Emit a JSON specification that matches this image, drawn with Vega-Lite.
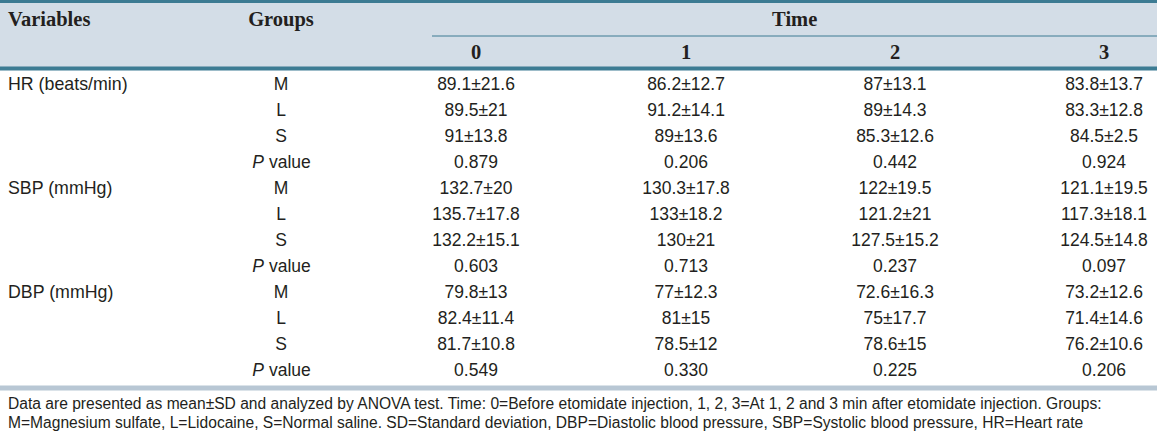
{
  "$schema": "https://vega.github.io/schema/vega-lite/v6.json",
  "width": 1157,
  "height": 435,
  "autosize": {"type": "none"},
  "padding": 0,
  "background": "#ffffff",
  "config": {"view": {"stroke": null}},
  "datasets": {
    "one": [{}],
    "headLeft": [{"r": -2, "c": 0, "t": "Variables"}],
    "headCenter": [
      {"r": -2, "c": 1, "t": "Groups"},
      {"r": -2, "c": 3.52, "t": "Time"},
      {"r": -1, "c": 2, "t": "0"},
      {"r": -1, "c": 3, "t": "1"},
      {"r": -1, "c": 4, "t": "2"},
      {"r": -1, "c": 5, "t": "3"}
    ],
    "vars": [
      {"r": 0, "c": 0, "t": "HR (beats/min)"},
      {"r": 4, "c": 0, "t": "SBP (mmHg)"},
      {"r": 8, "c": 0, "t": "DBP (mmHg)"}
    ],
    "pv": [{"r": 3, "c": 1}, {"r": 7, "c": 1}, {"r": 11, "c": 1}],
    "body": [
      {"r": 0, "c": 1, "t": "M"}, {"r": 1, "c": 1, "t": "L"}, {"r": 2, "c": 1, "t": "S"},
      {"r": 4, "c": 1, "t": "M"}, {"r": 5, "c": 1, "t": "L"}, {"r": 6, "c": 1, "t": "S"},
      {"r": 8, "c": 1, "t": "M"}, {"r": 9, "c": 1, "t": "L"}, {"r": 10, "c": 1, "t": "S"},
      {"r": 0, "c": 2, "t": "89.1±21.6"}, {"r": 0, "c": 3, "t": "86.2±12.7"}, {"r": 0, "c": 4, "t": "87±13.1"}, {"r": 0, "c": 5, "t": "83.8±13.7"},
      {"r": 1, "c": 2, "t": "89.5±21"}, {"r": 1, "c": 3, "t": "91.2±14.1"}, {"r": 1, "c": 4, "t": "89±14.3"}, {"r": 1, "c": 5, "t": "83.3±12.8"},
      {"r": 2, "c": 2, "t": "91±13.8"}, {"r": 2, "c": 3, "t": "89±13.6"}, {"r": 2, "c": 4, "t": "85.3±12.6"}, {"r": 2, "c": 5, "t": "84.5±2.5"},
      {"r": 3, "c": 2, "t": "0.879"}, {"r": 3, "c": 3, "t": "0.206"}, {"r": 3, "c": 4, "t": "0.442"}, {"r": 3, "c": 5, "t": "0.924"},
      {"r": 4, "c": 2, "t": "132.7±20"}, {"r": 4, "c": 3, "t": "130.3±17.8"}, {"r": 4, "c": 4, "t": "122±19.5"}, {"r": 4, "c": 5, "t": "121.1±19.5"},
      {"r": 5, "c": 2, "t": "135.7±17.8"}, {"r": 5, "c": 3, "t": "133±18.2"}, {"r": 5, "c": 4, "t": "121.2±21"}, {"r": 5, "c": 5, "t": "117.3±18.1"},
      {"r": 6, "c": 2, "t": "132.2±15.1"}, {"r": 6, "c": 3, "t": "130±21"}, {"r": 6, "c": 4, "t": "127.5±15.2"}, {"r": 6, "c": 5, "t": "124.5±14.8"},
      {"r": 7, "c": 2, "t": "0.603"}, {"r": 7, "c": 3, "t": "0.713"}, {"r": 7, "c": 4, "t": "0.237"}, {"r": 7, "c": 5, "t": "0.097"},
      {"r": 8, "c": 2, "t": "79.8±13"}, {"r": 8, "c": 3, "t": "77±12.3"}, {"r": 8, "c": 4, "t": "72.6±16.3"}, {"r": 8, "c": 5, "t": "73.2±12.6"},
      {"r": 9, "c": 2, "t": "82.4±11.4"}, {"r": 9, "c": 3, "t": "81±15"}, {"r": 9, "c": 4, "t": "75±17.7"}, {"r": 9, "c": 5, "t": "71.4±14.6"},
      {"r": 10, "c": 2, "t": "81.7±10.8"}, {"r": 10, "c": 3, "t": "78.5±12"}, {"r": 10, "c": 4, "t": "78.6±15"}, {"r": 10, "c": 5, "t": "76.2±10.6"},
      {"r": 11, "c": 2, "t": "0.549"}, {"r": 11, "c": 3, "t": "0.330"}, {"r": 11, "c": 4, "t": "0.225"}, {"r": 11, "c": 5, "t": "0.206"}
    ],
    "foot": [
      {"r": 12, "c": 0, "t": "Data are presented as mean±SD and analyzed by ANOVA test. Time: 0=Before etomidate injection, 1, 2, 3=At 1, 2 and 3 min after etomidate injection. Groups:"},
      {"r": 13, "c": 0, "t": "M=Magnesium sulfate, L=Lidocaine, S=Normal saline. SD=Standard deviation, DBP=Diastolic blood pressure, SBP=Systolic blood pressure, HR=Heart rate"}
    ]
  },
  "layer": [
    {
      "data": {"name": "one"},
      "mark": {"type": "rect", "color": "#d3dde7"},
      "encoding": {
        "x": {"datum": -1, "type": "quantitative", "axis": null, "scale": {"domain": [-1, 0, 1, 1.5, 2, 3, 4, 5, 5.5], "range": [0, 8, 281, 432, 476, 686, 895, 1104, 1157], "zero": false, "nice": false}},
        "x2": {"datum": 5.5},
        "y": {"datum": -3, "type": "quantitative", "axis": null, "scale": {"domain": [-3, -2, -1.5, -1, -0.5, 0, 11, 11.5, 12, 13, 14], "range": [1.5, 20, 36, 53, 68.5, 84.5, 371, 388, 404, 423, 435], "zero": false, "nice": false}},
        "y2": {"datum": -0.5}
      }
    },
    {
      "data": {"name": "one"},
      "mark": {"type": "rule", "color": "#3c7b93", "strokeWidth": 3},
      "encoding": {"x": {"datum": -1, "type": "quantitative"}, "x2": {"datum": 5.5}, "y": {"datum": -3, "type": "quantitative"}}
    },
    {
      "data": {"name": "one"},
      "mark": {"type": "rule", "color": "#3c7b93", "strokeWidth": 4},
      "encoding": {"x": {"datum": -1, "type": "quantitative"}, "x2": {"datum": 5.5}, "y": {"datum": -0.5, "type": "quantitative"}}
    },
    {
      "data": {"name": "one"},
      "mark": {"type": "rule", "color": "#3c7b93", "strokeWidth": 1},
      "encoding": {"x": {"datum": 1.5, "type": "quantitative"}, "x2": {"datum": 5.5}, "y": {"datum": -1.5, "type": "quantitative"}}
    },
    {
      "data": {"name": "one"},
      "mark": {"type": "rule", "color": "#b8c7d4", "strokeWidth": 5},
      "encoding": {"x": {"datum": -1, "type": "quantitative"}, "x2": {"datum": 5.5}, "y": {"datum": 11.5, "type": "quantitative"}}
    },
    {
      "data": {"name": "headLeft"},
      "mark": {"type": "text", "align": "left", "baseline": "middle", "font": "Liberation Serif", "fontWeight": "bold", "fontSize": 20.5, "color": "#231f20"},
      "encoding": {"x": {"field": "c", "type": "quantitative"}, "y": {"field": "r", "type": "quantitative"}, "text": {"field": "t"}}
    },
    {
      "data": {"name": "headCenter"},
      "mark": {"type": "text", "align": "center", "baseline": "middle", "font": "Liberation Serif", "fontWeight": "bold", "fontSize": 20.5, "color": "#231f20"},
      "encoding": {"x": {"field": "c", "type": "quantitative"}, "y": {"field": "r", "type": "quantitative"}, "text": {"field": "t"}}
    },
    {
      "data": {"name": "vars"},
      "mark": {"type": "text", "align": "left", "baseline": "middle", "font": "Liberation Sans", "fontSize": 17.8, "color": "#231f20"},
      "encoding": {"x": {"field": "c", "type": "quantitative"}, "y": {"field": "r", "type": "quantitative"}, "text": {"field": "t"}}
    },
    {
      "data": {"name": "body"},
      "mark": {"type": "text", "align": "center", "baseline": "middle", "font": "Liberation Sans", "fontSize": 17.5, "color": "#231f20"},
      "encoding": {"x": {"field": "c", "type": "quantitative"}, "y": {"field": "r", "type": "quantitative"}, "text": {"field": "t"}}
    },
    {
      "data": {"name": "pv"},
      "mark": {"type": "text", "align": "right", "baseline": "middle", "dx": -17, "font": "Liberation Sans", "fontStyle": "italic", "fontSize": 17.5, "color": "#231f20", "text": "P"},
      "encoding": {"x": {"field": "c", "type": "quantitative"}, "y": {"field": "r", "type": "quantitative"}}
    },
    {
      "data": {"name": "pv"},
      "mark": {"type": "text", "align": "left", "baseline": "middle", "dx": -12, "font": "Liberation Sans", "fontSize": 17.5, "color": "#231f20", "text": "value"},
      "encoding": {"x": {"field": "c", "type": "quantitative"}, "y": {"field": "r", "type": "quantitative"}}
    },
    {
      "data": {"name": "foot"},
      "mark": {"type": "text", "align": "left", "baseline": "middle", "font": "Liberation Sans", "fontSize": 15.6, "color": "#231f20"},
      "encoding": {"x": {"field": "c", "type": "quantitative"}, "y": {"field": "r", "type": "quantitative"}, "text": {"field": "t"}}
    }
  ]
}
